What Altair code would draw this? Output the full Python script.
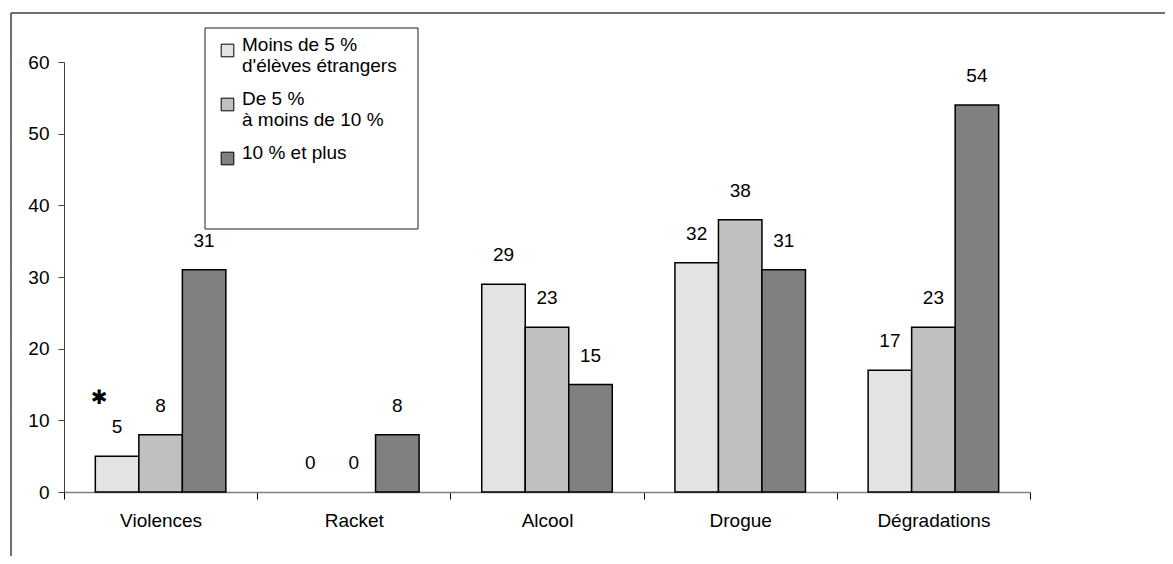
import altair as alt
import pandas as pd

categories = ["Violences", "Racket", "Alcool", "Drogue", "Dégradations"]
series = ["Moins de 5 %\nd'élèves étrangers", "De 5 %\nà moins de 10 %", "10 % et plus"]
moins5 = [5, 0, 29, 32, 17]
de5a10 = [8, 0, 23, 38, 23]
plus10 = [31, 8, 15, 31, 54]
colors = ["#e3e3e3", "#c0c0c0", "#808080"]
y_ticks = [0, 10, 20, 30, 40, 50, 60]
note_marker = "\u2731"

rows = []
for s, vals in zip(series, [moins5, de5a10, plus10]):
    for c, v in zip(categories, vals):
        rows.append({"categorie": c, "serie": s, "valeur": v})
df = pd.DataFrame(rows)

note_df = pd.DataFrame([{"categorie": categories[0], "serie": series[0],
                         "valeur": moins5[0], "marque": note_marker}])

FONT = "Liberation Sans"
FS = 19

x_enc = alt.X("categorie:N", sort=categories,
              scale=alt.Scale(paddingInner=0, paddingOuter=0),
              axis=alt.Axis(title=None, labelAngle=0, tickBand="extent",
                            domainColor="#808080", domainWidth=1.5,
                            tickColor="#000000", tickSize=7, tickWidth=1,
                            labelPadding=12, labelFontSize=FS, labelColor="black",
                            labelFont=FONT))
xo_enc = alt.XOffset("serie:N", sort=series,
                     scale=alt.Scale(paddingOuter=0.72, paddingInner=0))
y_enc = alt.Y("valeur:Q", scale=alt.Scale(domain=[0, 60]),
              axis=alt.Axis(title=None, values=y_ticks, grid=False,
                            domainColor="#404040", tickColor="#404040",
                            tickSize=6, labelPadding=9, labelFontSize=FS,
                            labelColor="black", labelFont=FONT))

base = alt.Chart(df)

frame_df = pd.DataFrame({"a": [0]})
frame_v = alt.Chart(frame_df).mark_rule(color="#404040", strokeWidth=1.5).encode(
    x=alt.value(-53), y=alt.value(-49), y2=alt.value(502))
frame_h = alt.Chart(frame_df).mark_rule(color="#404040", strokeWidth=1.5).encode(
    x=alt.value(-53), x2=alt.value(1109), y=alt.value(-49))
legend_box = alt.Chart(frame_df).mark_rect(fill="white", stroke="#202020", strokeWidth=1).encode(
    x=alt.value(141), x2=alt.value(354), y=alt.value(-34), y2=alt.value(167))

bars = base.transform_filter("datum.valeur > 0").mark_bar(
    stroke="black", strokeWidth=1.5).encode(
    x=x_enc, xOffset=xo_enc, y=y_enc,
    color=alt.Color("serie:N", sort=series,
                    scale=alt.Scale(domain=series, range=colors),
                    legend=alt.Legend(title=None, orient="none",
                                      legendX=154, legendY=-21,
                                      symbolType="square", symbolSize=160,
                                      symbolStrokeColor="black", symbolStrokeWidth=1,
                                      labelFontSize=FS, labelFont=FONT,
                                      labelColor="black", labelLimit=300,
                                      labelOffset=5, rowPadding=13,
                                      labelBaseline="alphabetic",
                                      labelExpr="split(datum.label, '\\n')",
                                      padding=0)))

labels = base.mark_text(dy=-23, baseline="alphabetic", fontSize=FS,
                        font=FONT, color="black").encode(
    x=x_enc, xOffset=xo_enc, y=y_enc, text=alt.Text("valeur:Q"))

note = alt.Chart(note_df).mark_text(dy=-58, dx=-18, fontSize=20,
                                    font="DejaVu Sans", color="black").encode(
    x=x_enc, xOffset=xo_enc, y=y_enc, text="marque:N")

chart = alt.layer(frame_v, frame_h, legend_box, bars, labels, note).properties(
    width=966, height=430,
    autosize=alt.AutoSizeParams(type="none"),
    padding={"left": 56, "top": 54, "right": 135, "bottom": 64},
).configure(font=FONT).configure_view(stroke=None)

chart.save("out.html", embed_options={"renderer": "svg", "actions": False})
